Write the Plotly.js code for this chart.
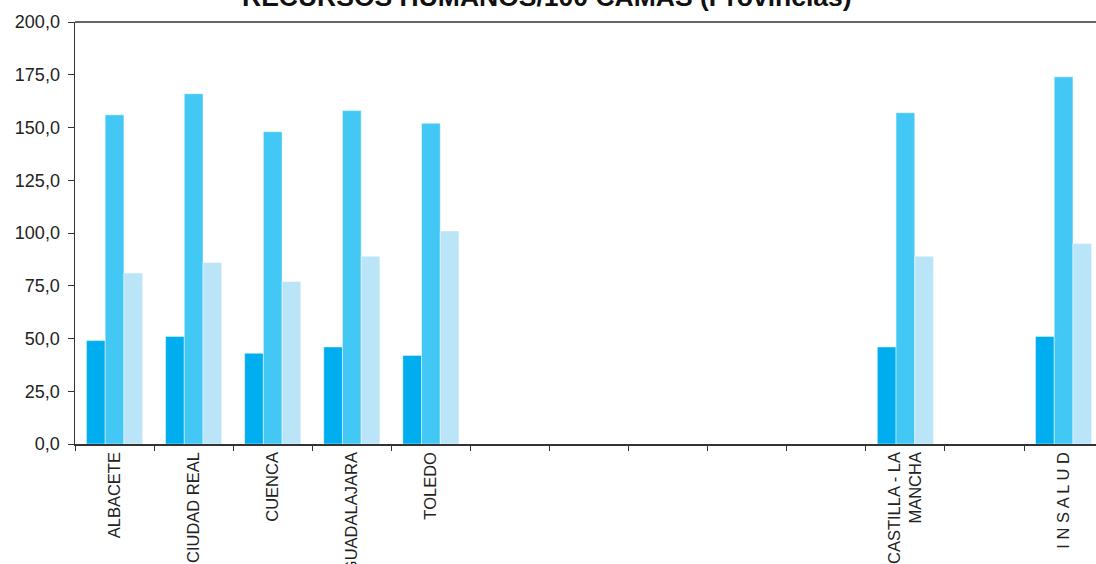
<!DOCTYPE html>
<html>
<head>
<meta charset="utf-8">
<script src="https://cdn.plot.ly/plotly-3.0.1.min.js"></script>
<style>
  html, body { margin: 0; padding: 0; background: #fff; overflow: hidden; }
  #chart { width: 1096px; height: 564px; }
</style>
</head>
<body>
<div id="chart"></div>
<script>
// Categories (empty slots are blank columns in the original chart)
const categories = ['ALBACETE', 'CIUDAD REAL', 'CUENCA', 'GUADALAJARA', 'TOLEDO',
  '', '', '', '', '', 'CASTILLA - LA<br>MANCHA', '', 'I N S A L U D'];

// Series values (null = no bar)
const serie1 = [49, 51, 43, 46, 42, null, null, null, null, null, 46, null, 51];
const serie2 = [156, 166, 148, 158, 152, null, null, null, null, null, 157, null, 174];
const serie3 = [81, 86, 77, 89, 101, null, null, null, null, null, 89, null, 95];

const yTickVals = [0, 25, 50, 75, 100, 125, 150, 175, 200];
const yTickText = ['0,0', '25,0', '50,0', '75,0', '100,0', '125,0', '150,0', '175,0', '200,0'];

const titleText = 'RECURSOS HUMANOS/100 CAMAS (Provincias)';

// unique keys for the blank categories
const xKeys = categories.map((c, i) => c === '' ? '\u200b'.repeat(i + 1) : c);

const colors = ['#00AEEF', '#43C8F5', '#BAE5F8'];
const series = [serie1, serie2, serie3];

const traces = series.map((vals, k) => ({
  type: 'bar',
  x: xKeys,
  y: vals,
  marker: { color: colors[k], line: { color: 'rgba(255,255,255,0.45)', width: 1 } },
  hoverinfo: 'skip'
}));

const font = 'Liberation Sans, Arial, Helvetica, sans-serif';

const layout = {
  width: 1096,
  height: 564,
  margin: { l: 75, r: 0, t: 22, b: 120, pad: 0 },
  paper_bgcolor: '#ffffff',
  plot_bgcolor: '#ffffff',
  showlegend: false,
  barmode: 'group',
  bargap: 0.29,
  bargroupgap: 0,
  xaxis: {
    type: 'category',
    categoryorder: 'array',
    categoryarray: xKeys,
    range: [-0.5, 12.41],
    tickson: 'boundaries',
    ticks: 'outside',
    ticklen: 5,
    tickwidth: 1,
    tickcolor: '#333',
    tickangle: -90,
    tickfont: { family: font, size: 16.5, color: '#222' },
    showline: true,
    linecolor: '#333',
    linewidth: 1.5,
    mirror: false,
    showgrid: false,
    zeroline: false,
    fixedrange: true
  },
  yaxis: {
    range: [0, 200],
    tickmode: 'array',
    tickvals: yTickVals,
    ticktext: yTickText,
    ticks: 'outside',
    ticklen: 6,
    tickwidth: 1,
    tickcolor: '#333',
    tickfont: { family: font, size: 18, color: '#222' },
    ticklabelstandoff: 4,
    showline: true,
    linecolor: '#333',
    linewidth: 1.5,
    showgrid: false,
    zeroline: false,
    fixedrange: true
  },
  annotations: [{
    text: '<b>' + titleText + '</b>',
    xref: 'paper', yref: 'paper',
    x: 0.462, xanchor: 'center',
    y: 1.0595, yanchor: 'middle',
    showarrow: false,
    font: { family: font, size: 26.5, color: '#111' }
  }],
  shapes: [{
    type: 'line', xref: 'paper', yref: 'paper',
    x0: 0, x1: 1, y0: 1, y1: 1,
    line: { color: '#333', width: 1.5 }
  }]
};

Plotly.newPlot('chart', traces, layout, { displayModeBar: false, staticPlot: true });
</script>
</body>
</html>
